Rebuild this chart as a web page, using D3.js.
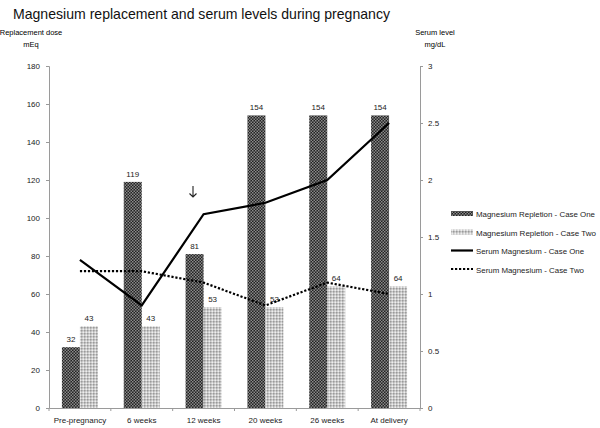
<!DOCTYPE html>
<html><head><meta charset="utf-8">
<script src="https://cdn.jsdelivr.net/npm/d3@7/dist/d3.min.js"></script>
<style>body{margin:0;background:#fff}svg{display:block}</style>
</head><body><svg id="c" width="600" height="428"></svg>
<script>
const categories = ["Pre-pregnancy","6 weeks","12 weeks","20 weeks","26 weeks","At delivery"];
const repletionCaseOne = [32,119,81,154,154,154];
const repletionCaseTwo = [43,43,53,53,64,64];
const serumCaseOne = [1.3,0.9,1.7,1.8,2.0,2.5];
const serumCaseTwo = [1.2,1.2,1.1,0.9,1.1,1.0];
const leftTicks = [0,20,40,60,80,100,120,140,160,180];
const rightTicks = [0,0.5,1,1.5,2,2.5,3];
const seriesNames = ["Magnesium Repletion - Case One","Magnesium Repletion - Case Two","Serum Magnesium - Case One","Serum Magnesium - Case Two"];

const svg = d3.select("#c");
const font = "'Liberation Sans', Arial, sans-serif";
const L = 49, R = 420, T = 66, B = 408;

const defs = svg.append("defs");
const p1 = defs.append("pattern").attr("id","pOne").attr("width",3).attr("height",3).attr("patternUnits","userSpaceOnUse");
p1.append("rect").attr("width",3).attr("height",3).attr("fill","#222");
p1.append("rect").attr("x",0).attr("y",0).attr("width",1.5).attr("height",1.5).attr("fill","#8a8a8a");
p1.append("rect").attr("x",1.5).attr("y",1.5).attr("width",1.5).attr("height",1.5).attr("fill","#8a8a8a");
const p2 = defs.append("pattern").attr("id","pTwo").attr("width",3).attr("height",3).attr("patternUnits","userSpaceOnUse");
p2.append("rect").attr("width",3).attr("height",3).attr("fill","#c8c8c8");
p2.append("rect").attr("x",0).attr("y",0).attr("width",1.5).attr("height",1.5).attr("fill","#9a9a9a");
p2.append("rect").attr("x",1.5).attr("y",1.5).attr("width",1.5).attr("height",1.5).attr("fill","#eeeeee");

const x0 = d3.scaleBand().domain(categories).range([L,R]).padding(0);
const x1 = d3.scaleBand().domain([0,1]).range([0,x0.bandwidth()]).paddingInner(0).paddingOuter((x0.bandwidth()-36)/36);
const yL = d3.scaleLinear().domain([0,180]).range([B,T]);
const yR = d3.scaleLinear().domain([0,3]).range([B,T]);

// title
svg.append("text").attr("x",13).attr("y",19).attr("font-family",font).attr("font-size",15).attr("fill","#111")
  .attr("textLength",377).attr("lengthAdjust","spacingAndGlyphs")
  .text("Magnesium replacement and serum levels during pregnancy");

// axis titles
svg.append("text").attr("x",31).attr("y",35).attr("text-anchor","middle").attr("font-family",font).attr("font-size",7.5).text("Replacement dose");
svg.append("text").attr("x",31).attr("y",47).attr("text-anchor","middle").attr("font-family",font).attr("font-size",7.5).text("mEq");
svg.append("text").attr("x",435).attr("y",35).attr("text-anchor","middle").attr("font-family",font).attr("font-size",7.5).text("Serum level");
svg.append("text").attr("x",435).attr("y",47).attr("text-anchor","middle").attr("font-family",font).attr("font-size",7.5).text("mg/dL");

function styleAxis(g){
  g.selectAll("path").attr("stroke","#9a9a9a").attr("stroke-width",1);
  g.selectAll("line").attr("stroke","#9a9a9a");
  g.selectAll("text").attr("font-family",font).attr("font-size",8).attr("fill","#222");
}
const gl = svg.append("g").attr("transform",`translate(${L},0)`)
  .call(d3.axisLeft(yL).tickValues(leftTicks).tickSize(3).tickSizeOuter(3).tickPadding(6));
styleAxis(gl);
const gr = svg.append("g").attr("transform",`translate(${R},0)`)
  .call(d3.axisRight(yR).tickValues(rightTicks).tickSize(3).tickSizeOuter(3).tickPadding(5).tickFormat(d3.format("")));
styleAxis(gr);
const gx = svg.append("g").attr("transform",`translate(0,${B})`)
  .call(d3.axisBottom(x0).tickSize(0).tickPadding(9));
styleAxis(gx);
const bounds = categories.map(c=>x0(c)).concat([R]);
gx.selectAll(".bt").data(bounds).enter().append("line").attr("class","bt")
  .attr("x1",d=>d).attr("x2",d=>d).attr("y1",0).attr("y2",3).attr("stroke","#9a9a9a");

// bars
const bars = svg.append("g");
categories.forEach((c,i)=>{
  const vals = [repletionCaseOne[i], repletionCaseTwo[i]];
  vals.forEach((v,j)=>{
    const bx = x0(c)+x1(j);
    bars.append("rect").attr("x",bx).attr("y",yL(v)).attr("width",x1.bandwidth()).attr("height",B-yL(v))
      .attr("fill", j===0 ? "url(#pOne)" : "url(#pTwo)");
    bars.append("text").attr("x",bx+x1.bandwidth()/2).attr("y",yL(v)-5).attr("text-anchor","middle")
      .attr("font-family",font).attr("font-size",8).attr("fill","#222").text(v);
  });
});

// lines
const line = d3.line().x((d,i)=>x0(categories[i])+x0.bandwidth()/2).y(d=>yR(d));
svg.append("path").datum(serumCaseOne).attr("d",line).attr("fill","none").attr("stroke","#000").attr("stroke-width",2.2);
svg.append("path").datum(serumCaseTwo).attr("d",line).attr("fill","none").attr("stroke","#000").attr("stroke-width",2.2).attr("stroke-dasharray","2.2,1.8");

// arrow marker (annotation)
svg.append("path").attr("d","M193,186 L193,197 M189.5,193.5 L193,197 L196.5,193.5")
  .attr("fill","none").attr("stroke","#222").attr("stroke-width",1.1);

// legend
const lg = svg.append("g").attr("font-family",font).attr("font-size",7.6);
const lens = [119,120,108,108];
seriesNames.forEach((n,i)=>{
  const yy = 214 + i*18.5;
  if(i===0) lg.append("rect").attr("x",451).attr("y",yy-3).attr("width",22).attr("height",5).attr("fill","url(#pOne)");
  if(i===1) lg.append("rect").attr("x",451).attr("y",yy-3).attr("width",22).attr("height",5).attr("fill","url(#pTwo)");
  if(i===2) lg.append("line").attr("x1",451).attr("x2",473).attr("y1",yy-0.5).attr("y2",yy-0.5).attr("stroke","#000").attr("stroke-width",2.2);
  if(i===3) lg.append("line").attr("x1",451).attr("x2",473).attr("y1",yy-0.5).attr("y2",yy-0.5).attr("stroke","#000").attr("stroke-width",2.2).attr("stroke-dasharray","2.2,1.8");
  lg.append("text").attr("x",476).attr("y",yy+3).attr("fill","#222")
    .attr("textLength",lens[i]).attr("lengthAdjust","spacingAndGlyphs").text(n);
});
</script></body></html>
